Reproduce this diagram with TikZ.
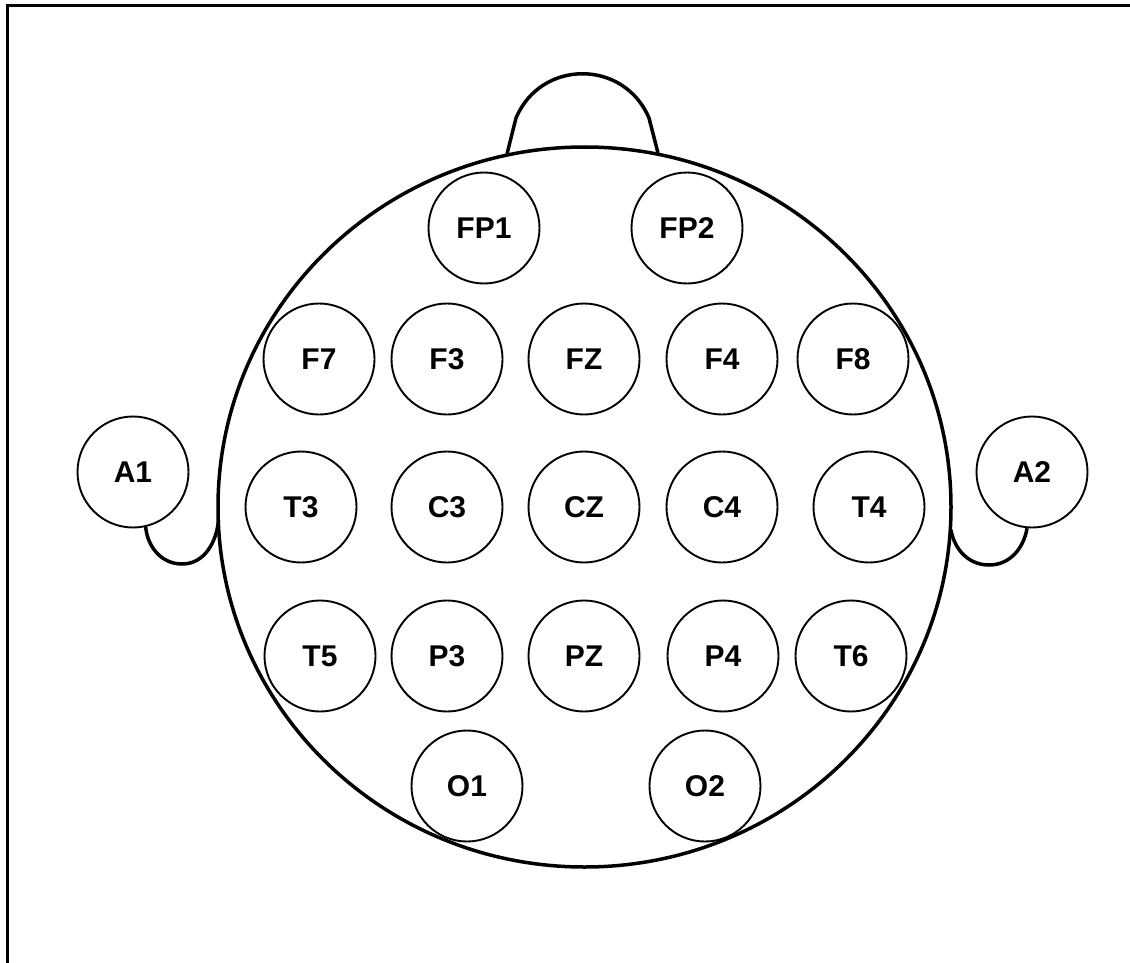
\documentclass[tikz,border=0pt]{standalone}
\usepackage{fontspec}
\setmainfont{Liberation Sans}
\begin{document}
\begin{tikzpicture}[x=1pt,y=-1pt,
  electrode/.style={circle,draw,line width=1.9pt,minimum size=111pt,inner sep=0pt,font=\fontsize{30}{30}\selectfont\bfseries},
  thick outline/.style={line width=3.5pt,line join=round},
  frameline/.style={line width=3pt}]
\useasboundingbox (0,0) rectangle (1130,963);
% frame (top and left edges visible)
\draw[frameline] (7.5,963) -- (7.5,5.5) -- (1130,5.5);
% head
\draw[thick outline] (584.5,507) ellipse [x radius=366.5pt, y radius=360pt];
% nose
\coordinate (noseL) at (507,154);
\coordinate (noseR) at (658,153);
\draw[thick outline] (noseL) -- (516,118) .. controls (541,59) and (624,59) .. (649,118) -- (noseR);
% electrodes
\node[electrode] (FP1) at (484,228) {FP1};
\node[electrode] (FP2) at (687,228) {FP2};
\node[electrode] (F7) at (319,359) {F7};
\node[electrode] (F3) at (447,359) {F3};
\node[electrode] (FZ) at (584,359) {FZ};
\node[electrode] (F4) at (722,359) {F4};
\node[electrode] (F8) at (853,359) {F8};
\node[electrode] (T3) at (301,507) {T3};
\node[electrode] (C3) at (447,507) {C3};
\node[electrode] (CZ) at (584,507) {CZ};
\node[electrode] (C4) at (722,507) {C4};
\node[electrode] (T4) at (869,507) {T4};
\node[electrode] (T5) at (320,656) {T5};
\node[electrode] (P3) at (447,656) {P3};
\node[electrode] (PZ) at (584,656) {PZ};
\node[electrode] (P4) at (723,656) {P4};
\node[electrode] (T6) at (851,656) {T6};
\node[electrode] (O1) at (467,786) {O1};
\node[electrode] (O2) at (705,786) {O2};
\node[electrode] (A1) at (133,472) {A1};
\node[electrode] (A2) at (1032,472) {A2};
% ears
\coordinate (earL) at (218.5,520);
\coordinate (earR) at (951,530);
\draw[thick outline] (A1.-77) to[out=-85,in=180] (182,564) to[out=0,in=-95] (earL);
\draw[thick outline] (A2.-95) to[out=-100,in=0] (989,565) to[out=180,in=-80] (earR);
\end{tikzpicture}
\end{document}
